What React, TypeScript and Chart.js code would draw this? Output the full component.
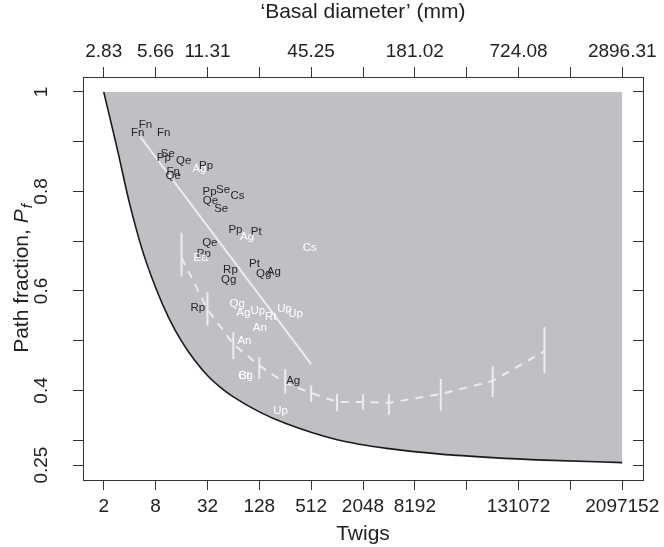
import React, { useEffect, useRef } from 'react';
import { Chart, registerables } from 'chart.js';

Chart.register(...registerables);

const FONT = "'Liberation Sans', Arial, Helvetica, sans-serif";

// axis ticks
const twigTicks = [2, 8, 32, 128, 512, 2048, 8192, 32768, 131072, 524288, 2097152];
const twigLabels = ['2', '8', '32', '128', '512', '2048', '8192', '', '131072', '', '2097152'];
const diameterLabels = ['2.83', '5.66', '11.31', '', '45.25', '', '181.02', '', '724.08', '', '2896.31'];
const pfTicks = [0.25, 0.3, 0.4, 0.5, 0.6, 0.7, 0.8, 0.9, 1];
const pfLabels = ['0.25', '', '0.4', '', '0.6', '', '0.8', '', '1'];

// lower bound curve of the shaded region
const boundTwigs = [2, 2.83, 4, 5.66, 8, 11.3, 16, 22.6, 32, 45.3, 64, 128, 256, 1024, 4096, 16384, 65536, 262144, 2097152];
const boundPf = [1, 0.89, 0.775, 0.68, 0.607, 0.547, 0.499, 0.461, 0.43, 0.406, 0.387, 0.357, 0.334, 0.301, 0.283, 0.272, 0.265, 0.26, 0.255];

// fitted line
const fitTwigs = [5.3, 512];
const fitPf = [0.91, 0.453];

// binned means with error bars
const binTwigs = [16, 32, 64, 128, 256, 512, 1024, 2048, 4096, 16384, 65536, 262144];
const binPf = [0.667, 0.563, 0.493, 0.45, 0.415, 0.395, 0.377, 0.377, 0.375, 0.393, 0.419, 0.479];
const binLow = [0.629, 0.53, 0.463, 0.423, 0.393, 0.377, 0.358, 0.361, 0.351, 0.359, 0.387, 0.435];
const binHigh = [0.717, 0.597, 0.517, 0.467, 0.443, 0.41, 0.393, 0.393, 0.393, 0.423, 0.449, 0.527];

// species points
const spCodes = ['Fn', 'Fn', 'Fn', 'Se', 'Pp', 'Qe', 'Ag', 'Pp', 'Fn', 'Qe', 'Pp', 'Se', 'Qe', 'Se', 'Cs', 'Pp', 'Ag', 'Pt', 'Cs', 'Qe', 'Pp', 'Ea', 'Pt', 'Rp', 'Qg', 'Qg', 'Ag', 'Rp', 'Qg', 'Ag', 'Up', 'Rt', 'Up', 'Up', 'An', 'An', 'Ct', 'Bg', 'Ag', 'Up'];
const spTwigs = [6.1, 4.97, 9.95, 11.07, 9.95, 16.98, 25.85, 30.9, 12.79, 12.79, 33.8, 48.7, 34.7, 46.2, 71.4, 67.7, 92.5, 117.8, 494, 34.1, 29.0, 26.6, 112.5, 59.2, 56.6, 144.3, 188.6, 24.8, 70.9, 83.4, 122.9, 174, 252, 336.8, 129.7, 86.1, 85, 89.6, 316.7, 225.5];
const spPf = [0.933, 0.918, 0.917, 0.875, 0.867, 0.861, 0.845, 0.851, 0.84, 0.831, 0.8, 0.803, 0.782, 0.765, 0.791, 0.723, 0.709, 0.719, 0.686, 0.697, 0.675, 0.667, 0.655, 0.642, 0.623, 0.635, 0.638, 0.566, 0.575, 0.556, 0.561, 0.547, 0.565, 0.554, 0.525, 0.499, 0.43, 0.429, 0.42, 0.359];
const spDark = [1, 1, 1, 1, 1, 1, 0, 1, 1, 1, 1, 1, 1, 1, 1, 1, 0, 1, 0, 1, 1, 0, 1, 1, 1, 1, 1, 1, 0, 0, 0, 0, 0, 0, 0, 0, 0, 0, 1, 0];

const GRAY = '#bfc0c4';
const LIGHT = '#ececec';
const INK = '#222222';

export default function App() {
  const ref = useRef<HTMLCanvasElement>(null);

  useEffect(() => {
    const canvas = ref.current;
    if (!canvas) return;
    const xMin = Math.pow(2, 0.2);
    const xMax = Math.pow(2, 21.8);
    const pts = (xs: number[], ys: number[]) => xs.map((x, i) => ({ x, y: ys[i] }));

    const datasets: any[] = [
      {
        label: 'bound',
        data: pts(boundTwigs, boundPf),
        borderColor: '#1a1a1a',
        borderWidth: 1.6,
        backgroundColor: GRAY,
        fill: { value: 1 },
        pointRadius: 0,
        cubicInterpolationMode: 'monotone',
        order: 10,
      },
      {
        label: 'fit',
        data: pts(fitTwigs, fitPf),
        borderColor: LIGHT,
        borderWidth: 2,
        pointRadius: 0,
        fill: false,
        order: 5,
      },
      {
        label: 'bins',
        data: pts(binTwigs, binPf),
        borderColor: LIGHT,
        borderWidth: 2,
        borderDash: [8, 7],
        pointRadius: 0,
        fill: false,
        order: 4,
      },
      ...binTwigs.map((x, i) => ({
        label: 'err' + i,
        data: [{ x, y: binLow[i] }, { x, y: binHigh[i] }],
        borderColor: LIGHT,
        borderWidth: 2,
        pointRadius: 0,
        fill: false,
        order: 3,
      })),
    ];

    const setTicks = (vals: number[]) => (scale: any) => {
      scale.ticks = vals.map((v) => ({ value: v }));
    };
    const noPad = (size: number, horiz: boolean) => (scale: any) => {
      if (horiz) scale.height = size;
      else scale.width = size;
      scale.paddingLeft = 0;
      scale.paddingRight = 0;
      scale.paddingTop = 0;
      scale.paddingBottom = 0;
    };
    const gridOpts = (len: number) => ({
      drawOnChartArea: false,
      drawTicks: true,
      tickLength: len,
      color: '#333',
      tickColor: '#333',
      lineWidth: 1,
    });
    const border = { display: true, color: '#333', width: 1 };

    const annot = {
      id: 'annot',
      afterDatasetsDraw(chart: any) {
        const { ctx } = chart;
        const xs = chart.scales.x;
        const ys = chart.scales.y;
        ctx.save();
        ctx.font = `11.5px ${FONT}`;
        ctx.textAlign = 'center';
        ctx.textBaseline = 'middle';
        spCodes.forEach((c, i) => {
          ctx.fillStyle = spDark[i] ? '#262626' : '#ffffff';
          ctx.fillText(c, xs.getPixelForValue(spTwigs[i]), ys.getPixelForValue(spPf[i]));
        });
        ctx.restore();
      },
      afterDraw(chart: any) {
        const { ctx, chartArea } = chart;
        ctx.save();
        ctx.translate(22, (chartArea.top + chartArea.bottom) / 2);
        ctx.rotate(-Math.PI / 2);
        ctx.fillStyle = INK;
        ctx.textBaseline = 'middle';
        ctx.textAlign = 'left';
        const main = `21px ${FONT}`;
        const ital = `italic 21px ${FONT}`;
        const sub = `italic 15px ${FONT}`;
        const t1 = 'Path fraction, ';
        ctx.font = main;
        const w1 = ctx.measureText(t1).width;
        ctx.font = ital;
        const w2 = ctx.measureText('P').width;
        ctx.font = sub;
        const w3 = ctx.measureText('f').width;
        let x0 = -(w1 + w2 + w3 + 1) / 2;
        ctx.font = main;
        ctx.fillText(t1, x0, 0);
        x0 += w1;
        ctx.font = ital;
        ctx.fillText('P', x0, 0);
        x0 += w2 + 1;
        ctx.font = sub;
        ctx.fillText('f', x0, 6);
        ctx.restore();
      },
    };

    const chart = new Chart(canvas, {
      type: 'line',
      data: { datasets },
      plugins: [annot],
      options: {
        responsive: false,
        devicePixelRatio: 1,
        animation: false,
        events: [],
        layout: { padding: 0 },
        plugins: { legend: { display: false }, tooltip: { enabled: false } },
        scales: {
          x: {
            type: 'logarithmic',
            position: 'bottom',
            min: xMin,
            max: xMax,
            afterBuildTicks: setTicks(twigTicks),
            afterFit: noPad(67, true),
            ticks: {
              autoSkip: false,
              maxRotation: 0,
              minRotation: 0,
              padding: 5,
              color: INK,
              font: { family: FONT, size: 19 },
              callback: (_v: any, i: number) => twigLabels[i],
            },
            grid: gridOpts(10),
            border,
            title: { display: true, text: 'Twigs', color: INK, font: { family: FONT, size: 21 }, padding: 0 },
          },
          x2: {
            type: 'logarithmic',
            position: 'top',
            min: xMin,
            max: xMax,
            afterBuildTicks: setTicks(twigTicks),
            afterFit: noPad(77, true),
            ticks: {
              autoSkip: false,
              maxRotation: 0,
              minRotation: 0,
              padding: 4,
              color: INK,
              font: { family: FONT, size: 19 },
              callback: (_v: any, i: number) => diameterLabels[i],
            },
            grid: gridOpts(10),
            border,
            title: { display: true, text: '\u2018Basal diameter\u2019 (mm)', color: INK, font: { family: FONT, size: 21 }, padding: 0 },
          },
          y: {
            type: 'linear',
            position: 'left',
            min: 0.22,
            max: 1.03,
            afterBuildTicks: setTicks(pfTicks),
            afterFit: noPad(83, false),
            ticks: {
              autoSkip: false,
              minRotation: 90,
              maxRotation: 90,
              crossAlign: 'center',
              padding: 13,
              color: INK,
              font: { family: FONT, size: 19 },
              callback: (_v: any, i: number) => pfLabels[i],
            },
            grid: gridOpts(10),
            border,
          },
          y2: {
            type: 'linear',
            position: 'right',
            min: 0.22,
            max: 1.03,
            afterBuildTicks: setTicks(pfTicks),
            afterFit: noPad(21, false),
            ticks: { display: false },
            grid: gridOpts(-10),
            border,
          },
        },
      } as any,
    });

    return () => chart.destroy();
  }, []);

  return (
    <div style={{ position: 'absolute', left: 0, top: 0, width: 664, height: 547, background: '#fff' }}>
      <canvas ref={ref} width={664} height={547} style={{ display: 'block', width: 664, height: 547 }} />
    </div>
  );
}
